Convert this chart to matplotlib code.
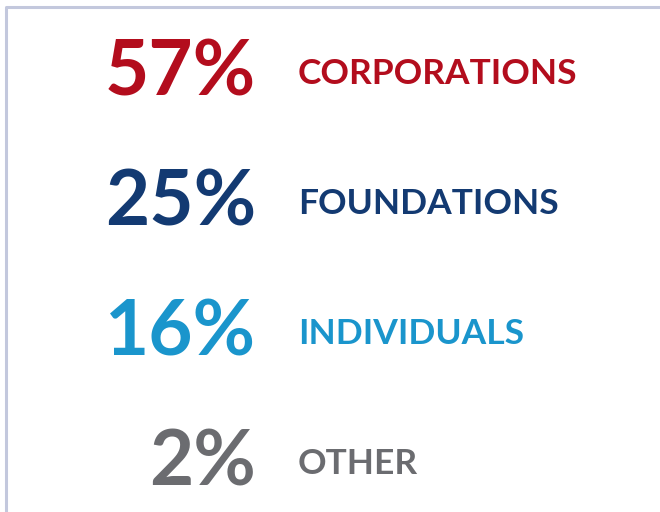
import matplotlib
matplotlib.use("Agg")
import matplotlib.pyplot as plt
from matplotlib.lines import Line2D

percents = ["57%", "25%", "16%", "2%"]
labels = ["CORPORATIONS", "FOUNDATIONS", "INDIVIDUALS", "OTHER"]
colors = ["#b30d1d", "#133a72", "#1a95cc", "#6b6c70"]

W, H = 660, 512
fig = plt.figure(figsize=(W / 100, H / 100), dpi=100)
ax = fig.add_axes([0, 0, 1, 1])
ax.set_xlim(0, W)
ax.set_ylim(H, 0)
ax.axis("off")

# border (top and left)
ax.add_line(Line2D([5.5, 5.5, W], [H, 6.5, 6.5], color="#c3c8dd", lw=2.2))

family = ["Lato", "DejaVu Sans"]
for i, (p, l, c) in enumerate(zip(percents, labels, colors)):
    base = 95 + i * 130
    ax.text(256, base, p, ha="right", va="baseline", fontsize=55,
            fontweight="bold", color=c, family=family)
    ax.text(298, base - 11, l, ha="left", va="baseline", fontsize=25.5,
            fontweight="bold", color=c, family=family)

fig.savefig("out.png", dpi=100)
